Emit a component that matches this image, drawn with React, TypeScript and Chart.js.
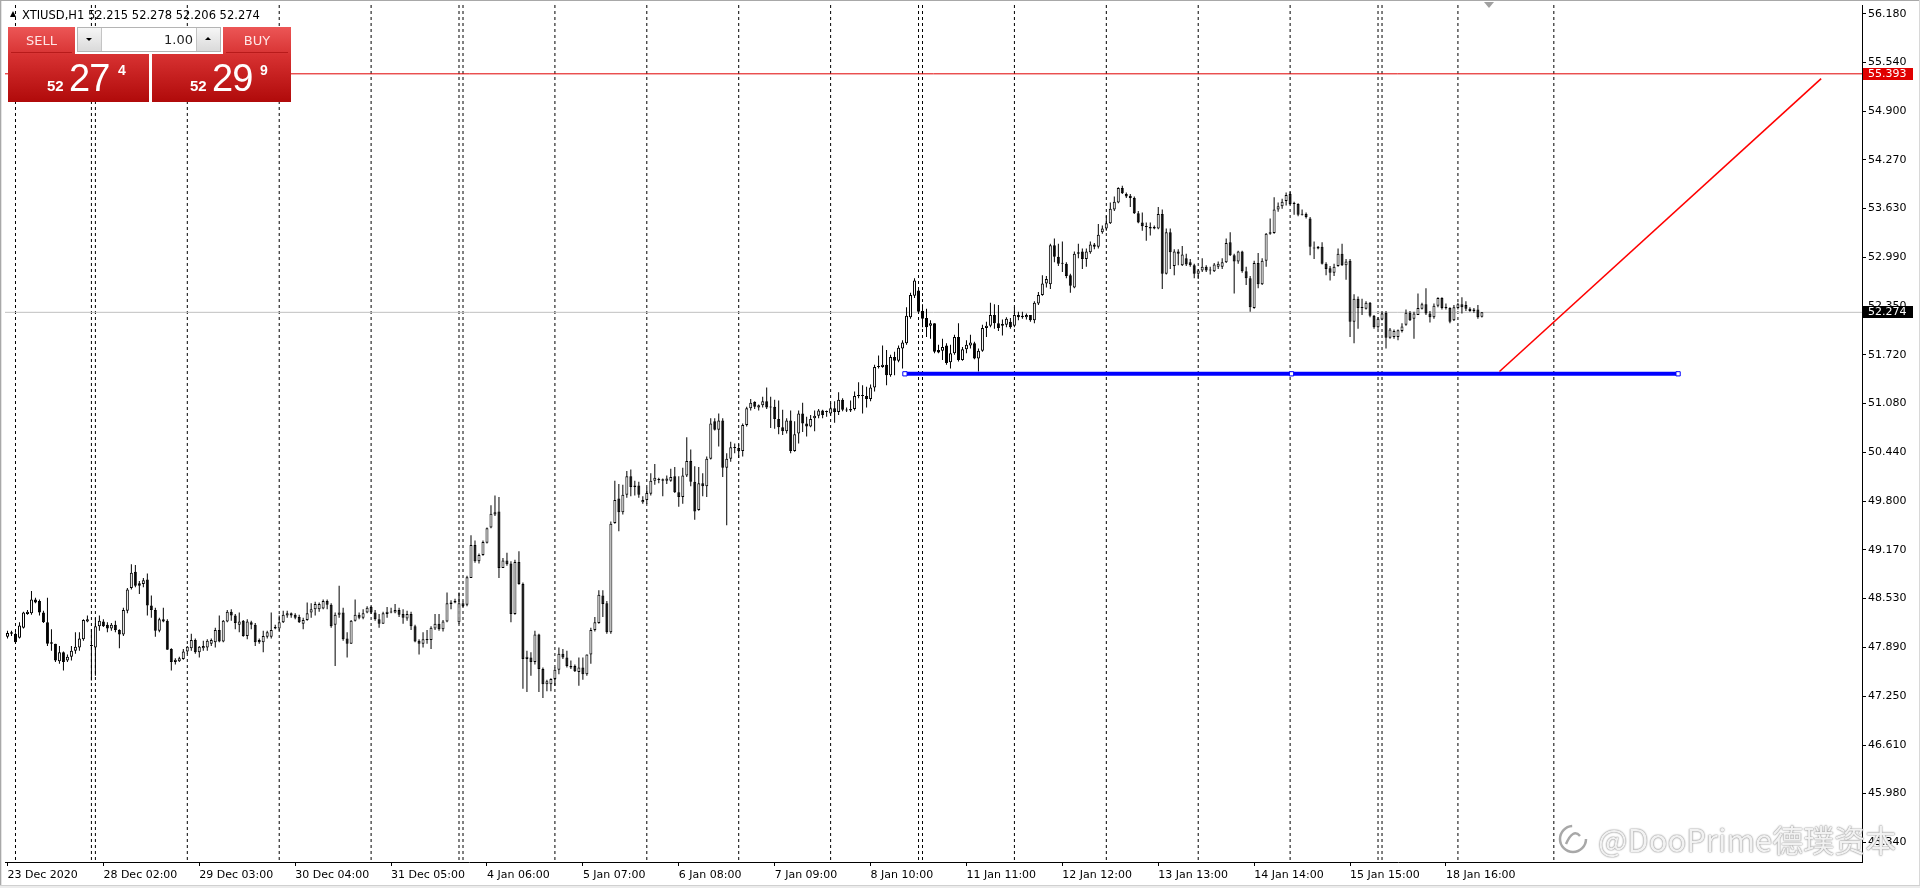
import React, { useEffect, useRef } from "react";
import { Chart, registerables } from "chart.js";

Chart.register(...registerables);

// ---------- data (XTIUSD H1, bar index 0..369) ----------
const opens = [
48.03,48.07,48.07,48.02,48.15,48.33,48.34,48.52,48.50,48.35,48.22,47.96,47.94,47.71,47.83,47.72,47.77,47.85,47.89,48.00,
48.23,47.91,47.89,48.17,48.23,48.19,48.14,48.19,48.12,48.06,48.37,48.67,48.88,48.73,48.72,48.78,48.44,48.38,48.11,48.26,
48.24,47.87,47.70,47.71,47.74,47.84,47.88,47.99,47.83,47.88,47.89,47.94,47.96,48.12,47.97,48.23,48.36,48.31,48.19,48.24,
48.04,48.22,48.19,47.99,47.96,48.03,48.03,48.14,48.14,48.22,48.31,48.34,48.32,48.29,48.20,48.25,48.35,48.39,48.39,48.40,
48.50,48.45,48.19,48.32,48.35,48.01,47.94,48.24,48.32,48.28,48.35,48.42,48.35,48.26,48.20,48.33,48.35,48.35,48.38,48.33,
48.27,48.33,48.17,47.98,47.94,47.99,47.99,48.14,48.20,48.13,48.23,48.46,48.48,48.22,48.47,48.45,48.80,49.23,49.02,49.10,
49.26,49.46,49.63,49.67,48.93,49.03,48.99,48.33,49.01,48.72,47.74,47.76,47.70,48.06,47.61,47.41,47.41,47.48,47.60,47.81,
47.76,47.65,47.65,47.57,47.63,47.54,47.80,48.12,48.21,48.57,48.47,48.09,49.52,49.84,49.66,49.89,50.13,49.99,50.01,49.79,
49.82,49.90,50.07,50.08,50.07,50.07,50.07,50.13,49.92,49.86,50.14,50.33,50.06,49.69,50.04,50.00,50.36,50.85,50.74,50.86,
50.24,50.36,50.50,50.50,50.46,50.80,51.02,51.10,51.03,51.06,51.11,51.03,51.04,50.88,50.77,50.72,50.86,50.46,50.69,50.95,
50.82,50.78,50.89,50.92,50.99,50.97,50.95,51.02,50.97,51.13,51.00,50.99,51.01,51.18,51.18,51.18,51.14,51.29,51.56,51.56,
51.59,51.45,51.69,51.64,51.80,51.87,52.21,52.49,52.56,52.29,52.20,52.10,52.13,51.78,51.77,51.84,51.62,51.74,51.95,51.65,
51.79,51.84,51.87,51.67,51.77,52.07,52.10,52.24,52.13,52.10,52.11,52.15,52.10,52.24,52.21,52.21,52.24,52.17,52.39,52.50,
52.65,52.64,53.15,53.00,52.91,52.91,52.76,52.60,53.04,53.07,52.97,53.06,53.16,53.13,53.32,53.37,53.44,53.62,53.71,53.90,
53.82,53.80,53.77,53.57,53.45,53.39,53.39,53.39,53.37,53.56,52.78,53.32,52.88,53.07,52.89,52.98,52.93,52.89,52.78,52.82,
52.87,52.82,52.81,52.87,52.87,52.93,53.19,53.02,52.94,53.07,52.81,52.72,52.33,52.92,52.64,52.95,53.30,53.31,53.62,53.66,
53.73,53.82,53.69,53.69,53.55,53.56,53.50,53.11,53.11,53.13,52.91,52.85,52.79,52.88,53.04,52.89,52.95,52.15,52.45,52.33,
52.32,52.40,52.23,52.08,52.18,52.27,51.94,51.95,51.95,52.03,52.11,52.27,52.19,52.24,52.32,52.38,52.26,52.21,52.36,52.46,
52.33,52.33,52.17,52.33,52.38,52.37,52.32,52.29,52.31,52.215
];
const highs = [
48.11,48.11,48.09,48.22,48.36,48.38,48.63,48.54,48.52,48.37,48.54,48.13,47.94,47.91,47.84,47.80,47.91,48.09,48.09,48.26,
48.31,48.13,48.28,48.31,48.26,48.22,48.21,48.24,48.13,48.41,48.67,48.98,48.97,48.76,48.80,48.86,48.57,48.41,48.28,48.41,
48.26,47.88,47.75,47.77,47.87,47.91,48.07,48.01,47.91,47.98,48.00,48.01,48.15,48.31,48.25,48.38,48.39,48.33,48.35,48.25,
48.26,48.24,48.21,48.01,48.11,48.11,48.35,48.19,48.31,48.37,48.37,48.35,48.34,48.32,48.28,48.48,48.47,48.49,48.48,48.52,
48.52,48.47,48.35,48.70,48.41,48.09,48.25,48.52,48.35,48.39,48.43,48.43,48.38,48.33,48.36,48.42,48.41,48.46,48.41,48.39,
48.37,48.36,48.19,48.00,48.09,48.12,48.17,48.33,48.33,48.25,48.61,48.51,48.53,48.61,48.49,48.83,49.36,49.29,49.12,49.29,
49.46,49.75,49.88,49.86,49.06,49.13,49.02,49.04,49.15,48.74,47.85,47.83,48.11,48.07,47.63,47.47,47.49,47.63,47.89,47.87,
47.85,47.72,47.67,47.76,47.76,47.80,48.15,48.29,48.64,48.64,48.50,49.54,50.07,50.03,50.02,50.20,50.22,50.07,50.06,49.87,
49.98,50.17,50.29,50.11,50.10,50.14,50.23,50.25,50.13,50.24,50.64,50.48,50.26,50.25,50.17,50.39,50.89,50.89,50.95,50.89,
50.43,50.58,50.56,50.55,50.82,51.04,51.14,51.11,51.07,51.17,51.29,51.17,51.13,51.12,51.00,50.89,50.99,50.85,50.99,51.09,
50.91,50.93,50.99,51.01,51.00,50.99,51.09,51.11,51.23,51.15,51.03,51.12,51.24,51.36,51.32,51.30,51.33,51.59,51.71,51.84,
51.78,51.72,51.76,51.84,51.91,52.34,52.53,52.72,52.57,52.38,52.32,52.17,52.13,51.85,51.93,51.87,51.85,51.98,52.13,51.82,
51.91,51.98,51.89,51.80,52.11,52.15,52.40,52.38,52.37,52.18,52.21,52.20,52.34,52.28,52.28,52.26,52.24,52.42,52.54,52.76,
52.75,53.17,53.24,53.17,53.20,52.93,52.78,53.07,53.17,53.11,53.11,53.20,53.18,53.43,53.41,53.54,53.71,53.79,53.91,53.93,
53.84,53.82,53.79,53.60,53.58,53.45,53.45,53.41,53.65,53.62,53.37,53.37,53.10,53.10,53.14,53.04,52.97,52.91,52.84,52.98,
52.89,52.87,52.92,52.94,52.98,53.24,53.32,53.04,53.08,53.08,52.87,52.75,52.95,53.05,52.98,53.31,53.50,53.78,53.71,53.76,
53.84,53.85,53.72,53.70,53.62,53.58,53.52,53.20,53.14,53.19,52.93,52.88,52.91,53.11,53.17,52.97,52.97,52.51,52.48,52.45,
52.42,52.41,52.24,52.21,52.28,52.29,52.07,52.05,52.05,52.13,52.31,52.29,52.28,52.52,52.40,52.59,52.29,52.39,52.47,52.47,
52.39,52.34,52.37,52.40,52.47,52.42,52.34,52.33,52.37,52.278
];
const lows = [
48.01,48.04,47.94,48.01,48.14,48.32,48.32,48.47,48.31,48.21,47.91,47.85,47.70,47.68,47.59,47.70,47.72,47.81,47.85,47.98,
48.22,47.46,47.52,48.11,48.16,48.09,48.11,48.09,47.88,48.04,48.34,48.65,48.68,48.59,48.68,48.31,48.28,48.03,48.09,48.22,
47.86,47.59,47.67,47.70,47.73,47.81,47.85,47.81,47.76,47.85,47.85,47.91,47.89,47.96,47.96,48.22,48.24,48.13,48.09,48.03,
48.00,48.13,47.91,47.94,47.83,48.01,48.01,48.13,48.11,48.21,48.28,48.28,48.26,48.21,48.13,48.24,48.28,48.31,48.36,48.39,
48.39,48.15,47.65,48.28,47.98,47.76,47.94,48.23,48.26,48.26,48.34,48.33,48.24,48.15,48.20,48.28,48.34,48.34,48.29,48.20,
48.24,48.12,47.96,47.80,47.89,47.94,47.87,48.12,48.11,48.10,48.22,48.39,48.47,48.20,48.42,48.43,48.80,49.00,48.99,49.09,
49.25,49.45,49.61,48.80,48.93,48.96,48.22,48.32,48.71,47.35,47.31,47.52,47.67,47.31,47.23,47.32,47.32,47.39,47.54,47.74,
47.63,47.61,47.57,47.39,47.47,47.52,47.68,48.10,48.20,48.29,48.07,48.07,49.51,49.41,49.63,49.85,49.87,49.88,49.85,49.77,
49.77,49.88,50.02,50.04,49.87,50.03,50.06,49.91,49.73,49.77,50.12,50.00,49.56,49.68,49.87,49.86,50.35,50.73,50.52,50.12,
49.49,50.32,50.43,50.37,50.39,50.78,50.99,51.01,50.99,51.03,51.01,50.76,50.75,50.68,50.67,50.69,50.43,50.45,50.56,50.71,
50.65,50.77,50.72,50.89,50.89,50.91,50.92,50.83,50.93,50.98,50.97,50.97,50.99,51.15,50.95,51.03,51.11,51.24,51.54,51.55,
51.32,51.43,51.45,51.62,51.54,51.85,52.19,52.46,52.26,52.08,51.95,51.93,51.74,51.74,51.65,51.59,51.54,51.72,51.63,51.64,
51.74,51.80,51.66,51.50,51.76,51.95,52.08,52.06,52.03,51.97,52.08,52.06,52.08,52.17,52.19,52.18,52.15,52.13,52.37,52.49,
52.60,52.58,52.93,52.88,52.80,52.72,52.53,52.59,52.98,52.84,52.87,53.04,53.10,53.11,53.30,53.34,53.43,53.60,53.70,53.82,
53.77,53.65,53.56,53.44,53.34,53.21,53.28,53.36,53.36,52.58,52.77,52.84,52.76,52.89,52.88,52.88,52.87,52.72,52.71,52.80,
52.80,52.77,52.80,52.84,52.84,52.92,53.01,52.52,52.91,52.79,52.63,52.28,52.32,52.59,52.63,52.87,53.29,53.30,53.59,53.63,
53.67,53.68,53.55,53.53,53.54,53.50,53.02,52.97,53.10,52.90,52.76,52.69,52.75,52.87,52.88,52.70,51.95,51.87,52.06,52.24,
52.31,52.21,52.06,52.06,52.17,51.80,51.93,51.93,51.91,52.01,52.10,52.16,51.93,52.24,52.31,52.24,52.14,52.19,52.34,52.31,
52.31,52.13,52.16,52.31,52.26,52.29,52.28,52.27,52.19,52.206
];
const closes = [
48.08,48.09,47.96,48.18,48.35,48.36,48.52,48.48,48.35,48.22,47.94,47.94,47.72,47.83,47.70,47.77,47.85,47.90,48.01,48.25,
48.26,47.91,48.17,48.24,48.17,48.14,48.19,48.12,48.06,48.38,48.65,48.87,48.70,48.70,48.77,48.44,48.38,48.11,48.26,48.23,
47.86,47.70,47.73,47.75,47.84,47.90,47.99,47.83,47.90,47.91,47.98,47.99,48.12,47.97,48.24,48.36,48.31,48.21,48.23,48.04,
48.23,48.19,47.96,47.96,48.04,48.09,48.12,48.16,48.22,48.32,48.34,48.31,48.28,48.22,48.25,48.34,48.39,48.46,48.46,48.50,
48.45,48.17,48.32,48.35,48.00,47.94,48.24,48.32,48.28,48.34,48.41,48.35,48.26,48.20,48.34,48.36,48.36,48.38,48.32,48.28,
48.33,48.17,47.97,47.94,48.00,48.00,48.15,48.20,48.13,48.23,48.47,48.48,48.50,48.47,48.43,48.81,49.23,49.02,49.10,49.27,
49.45,49.64,49.66,48.93,49.03,48.98,48.33,49.01,48.72,47.74,47.77,47.70,48.06,47.61,47.41,47.45,47.48,47.60,47.81,47.76,
47.65,47.63,47.58,47.63,47.54,47.80,48.12,48.22,48.58,48.46,48.09,49.51,49.82,49.66,49.89,50.13,49.99,50.01,49.89,49.82,
49.91,50.07,50.11,50.09,50.09,50.10,50.12,49.92,49.86,50.14,50.33,50.06,49.67,50.04,50.00,50.36,50.82,50.74,50.86,50.24,
50.36,50.51,50.50,50.46,50.80,51.02,51.09,51.04,51.06,51.11,51.03,51.03,50.88,50.77,50.72,50.86,50.46,50.68,50.95,50.82,
50.78,50.88,50.92,50.99,50.93,50.97,51.02,50.97,51.13,51.00,50.99,51.01,51.18,51.19,51.19,51.14,51.29,51.56,51.56,51.59,
51.45,51.69,51.64,51.81,51.88,52.23,52.50,52.69,52.28,52.19,52.08,52.13,51.76,51.75,51.82,51.61,51.74,51.95,51.65,51.79,
51.85,51.88,51.67,51.77,52.07,52.10,52.24,52.13,52.07,52.12,52.19,52.08,52.24,52.21,52.23,52.24,52.17,52.40,52.50,52.65,
52.71,53.15,53.00,52.91,52.91,52.75,52.62,53.04,53.06,52.97,53.07,53.16,53.13,53.29,53.37,53.44,53.63,53.72,53.90,53.83,
53.79,53.77,53.57,53.45,53.40,53.40,53.37,53.37,53.56,52.78,53.32,53.06,53.07,53.04,53.03,52.90,52.89,52.78,52.82,52.87,
52.82,52.82,52.90,52.91,52.93,53.18,53.02,52.94,53.07,52.81,52.72,52.34,52.92,52.64,52.95,53.30,53.32,53.62,53.66,53.72,
53.81,53.69,53.69,53.55,53.55,53.52,53.13,53.11,53.13,52.91,52.84,52.79,52.87,53.04,52.89,52.94,52.15,52.45,52.33,52.34,
52.40,52.23,52.08,52.19,52.26,51.94,52.05,52.03,52.04,52.09,52.27,52.17,52.26,52.33,52.38,52.26,52.21,52.36,52.46,52.33,
52.33,52.15,52.34,52.38,52.34,52.32,52.29,52.31,52.21,52.274
];

// x axis labels (bar index where each label sits)
const xTickBars = [0, 24, 48, 72, 96, 120, 144, 168, 192, 216, 240, 264, 288, 312, 336, 360];
const xTickLabels = [
  "23 Dec 2020", "28 Dec 02:00", "29 Dec 03:00", "30 Dec 04:00", "31 Dec 05:00", "4 Jan 06:00",
  "5 Jan 07:00", "6 Jan 08:00", "7 Jan 09:00", "8 Jan 10:00", "11 Jan 11:00", "12 Jan 12:00",
  "13 Jan 13:00", "14 Jan 14:00", "15 Jan 15:00", "18 Jan 16:00",
];
// price axis ticks
const yTickValues = [56.18, 55.54, 54.9, 54.27, 53.63, 52.99, 52.35, 51.72, 51.08, 50.44, 49.8, 49.17, 48.53, 47.89, 47.25, 46.61, 45.98, 45.34];
// period separators (bar index)
const separatorBars = [2, 21, 22, 45, 68, 91, 113, 114, 137, 160, 183, 206, 228, 229, 252, 275, 298, 321, 343, 344, 363, 387];

// drawn objects
const targetLevel = 55.393;
const bidPrice = 52.274;
const supportLevel = 51.47;
const supportBars = [224.6, 321.35, 418.1];
const trendBars = [373.4, 453.9];
const trendPrices = [51.5, 55.33];

const X_MIN = -0.625;
const X_MAX = 464.125;
const Y_MIN = 45.086;
const Y_MAX = 56.293;

const FONT = "'DejaVu Sans', sans-serif";

const priceTagPlugin = {
  id: "priceTags",
  afterDraw(chart: any) {
    const { ctx, scales } = chart;
    const y = scales.y;
    const tags = [
      { v: targetLevel, bg: "#e00000" },
      { v: bidPrice, bg: "#000000" },
    ];
    ctx.save();
    tags.forEach((t) => {
      const py = Math.round(y.getPixelForValue(t.v));
      ctx.fillStyle = t.bg;
      ctx.fillRect(y.left + 1, py - 6, 50, 12);
      ctx.fillStyle = "#ffffff";
      ctx.font = "11px " + FONT;
      ctx.textBaseline = "middle";
      ctx.textAlign = "left";
      ctx.fillText(t.v.toFixed(3), y.left + 6, py + 0.5);
    });
    ctx.restore();
  },
};

export default function App() {
  const canvasRef = useRef<HTMLCanvasElement | null>(null);

  useEffect(() => {
    const canvas = canvasRef.current;
    if (!canvas) return;
    const bodies = opens.map((o, i) => ({ x: i, y: [o, closes[i]] }));
    const bodyColors = opens.map((o, i) => (closes[i] >= o ? "#ffffff" : "#000000"));
    const wicks = lows.map((l, i) => ({ x: i, y: [l, highs[i]] }));
    const sepData: any[] = [];
    separatorBars.forEach((b) => {
      sepData.push({ x: b, y: Y_MAX }, { x: b, y: Y_MIN }, { x: b, y: null });
    });

    const chart = new Chart(canvas, {
      type: "bar",
      data: {
        datasets: [
          {
            type: "line",
            label: "trend",
            data: [
              { x: trendBars[0], y: trendPrices[0] },
              { x: trendBars[1], y: trendPrices[1] },
            ],
            borderColor: "#ff0000",
            borderWidth: 1.6,
            pointRadius: 0,
            order: 0,
          },
          {
            type: "line",
            label: "target",
            data: [
              { x: X_MIN, y: targetLevel },
              { x: X_MAX, y: targetLevel },
            ],
            borderColor: "#e00000",
            borderWidth: 1,
            pointRadius: 0,
            order: 0,
          },
          {
            type: "line",
            label: "support",
            data: supportBars.map((b) => ({ x: b, y: supportLevel })),
            borderColor: "#0000ff",
            borderWidth: 4,
            pointStyle: "rect",
            pointRadius: 3,
            pointBackgroundColor: "#ffffff",
            pointBorderColor: "#0000ff",
            pointBorderWidth: 1,
            order: 1,
          },
          {
            type: "bar",
            label: "body",
            data: bodies,
            backgroundColor: bodyColors,
            borderColor: "#000000",
            borderWidth: 1,
            borderSkipped: false,
            barThickness: 3,
            minBarLength: 1,
            grouped: false,
            inflateAmount: 0,
            order: 2,
          } as any,
          {
            type: "bar",
            label: "wick",
            data: wicks,
            backgroundColor: "#000000",
            borderWidth: 0,
            barThickness: 1,
            grouped: false,
            inflateAmount: 0,
            order: 3,
          } as any,
          {
            type: "line",
            label: "bid",
            data: [
              { x: X_MIN, y: bidPrice },
              { x: X_MAX, y: bidPrice },
            ],
            borderColor: "#c0c0c0",
            borderWidth: 1,
            pointRadius: 0,
            order: 4,
          },
          {
            type: "line",
            label: "separators",
            data: sepData,
            borderColor: "#000000",
            borderWidth: 1,
            borderDash: [3, 3],
            pointRadius: 0,
            spanGaps: false,
            order: 5,
          },
        ] as any,
      },
      options: {
        responsive: false,
        animation: false,
        events: [],
        layout: { padding: { left: 3, top: 2, right: 0, bottom: 0 } },
        plugins: { legend: { display: false }, tooltip: { enabled: false } },
        scales: {
          x: {
            type: "linear",
            min: X_MIN,
            max: X_MAX,
            bounds: "data",
            offset: false,
            afterBuildTicks: (s: any) => {
              s.ticks = xTickBars.map((v) => ({ value: v }));
            },
            afterFit: (s: any) => {
              s.height = 26;
              s.paddingLeft = 0;
              s.paddingRight = 0;
              s.paddingTop = 0;
              s.paddingBottom = 0;
            },
            ticks: {
              autoSkip: false,
              maxRotation: 0,
              minRotation: 0,
              align: "start",
              padding: 3,
              color: "#000000",
              font: { family: FONT, size: 11 },
              callback: (v: any) => {
                const k = xTickBars.indexOf(Number(v));
                return k >= 0 ? xTickLabels[k] : "";
              },
            },
            grid: { drawOnChartArea: false, drawTicks: true, tickLength: 4, color: "#000000", offset: false },
            border: { display: true, color: "#000000", width: 1 },
          },
          y: {
            type: "linear",
            position: "right",
            min: Y_MIN,
            max: Y_MAX,
            bounds: "data",
            beginAtZero: false,
            afterBuildTicks: (s: any) => {
              s.ticks = yTickValues.map((v) => ({ value: v }));
            },
            afterFit: (s: any) => {
              s.width = 58;
              s.paddingLeft = 0;
              s.paddingRight = 0;
              s.paddingTop = 0;
              s.paddingBottom = 0;
            },
            ticks: {
              padding: 2,
              color: "#000000",
              font: { family: FONT, size: 11 },
              callback: (v: any) => Number(v).toFixed(3),
            },
            grid: { drawOnChartArea: false, drawTicks: true, tickLength: 4, color: "#000000" },
            border: { display: true, color: "#000000", width: 1 },
          },
        },
      } as any,
      plugins: [priceTagPlugin],
    });
    return () => chart.destroy();
  }, []);

  const redBtn = "linear-gradient(#ec5656, #d83434)";
  const redBox = "linear-gradient(#d83232, #b00a0a)";
  const grayBtn = "linear-gradient(#f6f6f6, #dadada)";
  const abs = (s: any) => ({ position: "absolute", ...s });

  return (
    <div
      style={{
        position: "fixed",
        left: 0,
        top: 0,
        width: 1920,
        height: 888,
        background: "#ffffff",
        overflow: "hidden",
        fontFamily: FONT,
      }}
    >
      <canvas ref={canvasRef} width={1920} height={888} style={abs({ left: 0, top: 0, width: 1920, height: 888 })} />

      {/* window frame */}
      <div style={abs({ left: 0, top: 0, width: 1, height: 888, background: "#a8a8a8" })} />
      <div style={abs({ left: 1, top: 0, width: 1, height: 888, background: "#e4e4e4" })} />
      <div style={abs({ left: 0, top: 0, width: 1920, height: 1, background: "#a8a8a8" })} />
      <div style={abs({ left: 1919, top: 0, width: 1, height: 888, background: "#d8d8d8" })} />
      <div style={abs({ left: 0, top: 885, width: 1920, height: 3, background: "#ececec", borderTop: "1px solid #d0d0d0" })} />

      {/* chart shift marker */}
      <div
        style={abs({
          left: 1484,
          top: 2,
          width: 0,
          height: 0,
          borderLeft: "5px solid transparent",
          borderRight: "5px solid transparent",
          borderTop: "6px solid #a0a0a0",
        })}
      />

      {/* header */}
      <div
        style={abs({
          left: 10,
          top: 11,
          width: 0,
          height: 0,
          borderLeft: "3px solid transparent",
          borderRight: "3px solid transparent",
          borderBottom: "6px solid #000",
        })}
      />
      <div style={abs({ left: 22, top: 8, fontSize: 11.5, lineHeight: "14px", color: "#000", whiteSpace: "pre" })}>
        XTIUSD,H1 52.215 52.278 52.206 52.274
      </div>

      {/* one click trading panel */}
      <div style={abs({ left: 8, top: 27, width: 283, height: 75, background: "#ffffff" })} />
      <div
        style={abs({
          left: 8,
          top: 27,
          width: 67,
          height: 27,
          background: redBtn,
          color: "#ffe6e6",
          fontSize: 13,
          lineHeight: "27px",
          textAlign: "center",
        })}
      >
        SELL
      </div>
      <div
        style={abs({
          left: 223,
          top: 27,
          width: 68,
          height: 27,
          background: redBtn,
          color: "#ffe6e6",
          fontSize: 13,
          lineHeight: "27px",
          textAlign: "center",
        })}
      >
        BUY
      </div>
      <div style={abs({ left: 11, top: 52, width: 61, height: 1, background: "#b81a1a" })} />
      <div style={abs({ left: 226, top: 52, width: 62, height: 1, background: "#b81a1a" })} />
      <div
        style={abs({
          left: 77,
          top: 27,
          width: 142,
          height: 23,
          border: "1px solid #b4b4b4",
          background: "#ffffff",
        })}
      />
      <div style={abs({ left: 78, top: 28, width: 23, height: 23, background: grayBtn, borderRight: "1px solid #c4c4c4" })} />
      <div
        style={abs({
          left: 86,
          top: 38,
          width: 0,
          height: 0,
          borderLeft: "3px solid transparent",
          borderRight: "3px solid transparent",
          borderTop: "3px solid #000",
        })}
      />
      <div style={abs({ left: 196, top: 28, width: 23, height: 23, background: grayBtn, borderLeft: "1px solid #c4c4c4" })} />
      <div
        style={abs({
          left: 205,
          top: 37,
          width: 0,
          height: 0,
          borderLeft: "3px solid transparent",
          borderRight: "3px solid transparent",
          borderBottom: "3px solid #000",
        })}
      />
      <div
        style={abs({
          left: 102,
          top: 28,
          width: 91,
          height: 23,
          fontSize: 13,
          lineHeight: "23px",
          textAlign: "right",
          color: "#222",
        })}
      >
        1.00
      </div>

      <div style={abs({ left: 8, top: 54, width: 141, height: 48, background: redBox })} />
      <div style={abs({ left: 152, top: 54, width: 139, height: 48, background: redBox })} />
      {[
        { l: 47, t: "52", top: 78, size: 15, bold: true },
        { l: 69, t: "27", top: 59, size: 38, bold: false },
        { l: 118, t: "4", top: 63, size: 14, bold: true },
        { l: 190, t: "52", top: 78, size: 15, bold: true },
        { l: 212, t: "29", top: 59, size: 38, bold: false },
        { l: 260, t: "9", top: 63, size: 14, bold: true },
      ].map((p, i) => (
        <span
          key={i}
          style={abs({
            left: p.l,
            top: p.top,
            fontFamily: "'Liberation Sans', Arial, sans-serif",
            fontSize: p.size,
            lineHeight: p.size + "px",
            fontWeight: p.bold ? 700 : 400,
            letterSpacing: p.bold ? 0 : -1,
            color: "#ffffff",
            whiteSpace: "pre",
          })}
        >
          {p.t}
        </span>
      ))}

      {/* watermark */}
      <div style={abs({ left: 1556, top: 821, display: "flex", alignItems: "center", whiteSpace: "pre" })}>
        <svg width="34" height="34" viewBox="0 0 34 34">
          <circle cx="17" cy="17" r="13" fill="none" stroke="#a8a8a8" strokeWidth="2.5" strokeDasharray="60 22" />
          <path d="M10 22 Q17 6 24 14" fill="none" stroke="#a8a8a8" strokeWidth="2.5" />
        </svg>
        <span
          style={{
            marginLeft: 8,
            fontFamily: "'Noto Sans CJK SC', 'Noto Sans', sans-serif",
            fontSize: 31,
            lineHeight: "36px",
            color: "rgba(255,255,255,0.9)",
            textShadow: "0 0 1px #777, 0 0 2px #999",
          }}
        >
          @DooPrime德璞资本
        </span>
      </div>
    </div>
  );
}
